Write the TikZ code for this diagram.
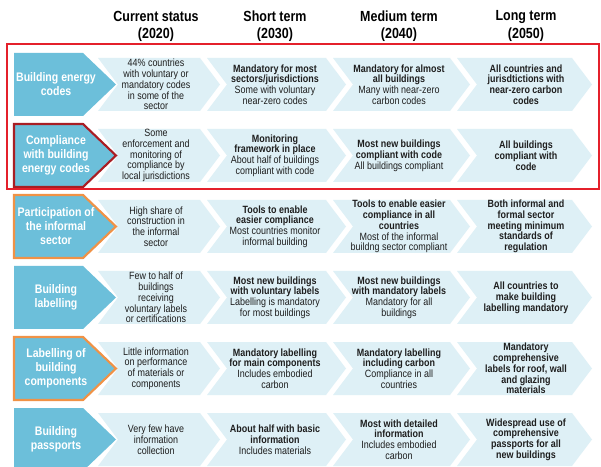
\documentclass[tikz,border=0pt]{standalone}
\usepackage{fontspec}
\setmainfont{Liberation Sans}[FakeStretch=0.85]
\usepackage{xcolor}
\definecolor{tagblue}{RGB}{108,191,218}
\definecolor{paleblue}{RGB}{222,240,246}
\definecolor{boxred}{RGB}{228,32,43}
\definecolor{darkred}{RGB}{168,30,36}
\definecolor{tagorange}{RGB}{240,146,70}
\definecolor{txt}{RGB}{30,30,30}

\begin{document}
\begin{tikzpicture}[
      x=0.75pt,y=-0.75pt,
      heading/.style={
        font=\bfseries\fontsize{11}{12.8}\selectfont,
        align=center,
        text=black
      },
      tag/.style={
        font=\bfseries\fontsize{9.3}{10.5}\selectfont,
        align=center,
        text=white,
        inner sep=0pt
      },
      cell/.style={
        font=\fontsize{7.9}{8.1}\selectfont,
        align=center,
        text=txt,
        inner sep=0pt
      },
      chevron/.style={
        fill=paleblue
      },
      tagshape/.style={
        fill=tagblue
      },
      tagborder/.style={
        line width=1.6pt,
        line join=miter
      }
    ]
    \path[use as bounding box,fill=white] (0,0) rectangle (601,467);

    % arrows behind the texts
    \foreach \yc in {84.5,155.5,226.5,297.5,368.5,439.5} {
      \fill[tagshape] (14,\yc-31.5) -- (83,\yc-31.5) -- (116,\yc) -- (83,\yc+31.5) -- (14,\yc+31.5) -- cycle;
      \foreach \l/\s in {98/200,207/326,333/450,457/572}
        \fill[chevron] (\l,\yc-26.5) -- (\s,\yc-26.5) -- (\s+20,\yc) -- (\s,\yc+26.5) -- (\l,\yc+26.5) -- (\l+20,\yc) -- cycle;
    }
    \draw[tagborder,draw=darkred] (14,124) -- (83,124) -- (116,155.5) -- (83,187) -- (14,187) -- cycle;
    \draw[tagborder,draw=tagorange] (14,195) -- (83,195) -- (116,226.5) -- (83,258) -- (14,258) -- cycle;
    \draw[tagborder,draw=tagorange] (14,337) -- (83,337) -- (116,368.5) -- (83,400) -- (14,400) -- cycle;

    % column headings
    \node[heading] (h1) at (156,26) {Current status\\(2020)};
    \node[heading] (h2) at (275,26) {Short term\\(2030)};
    \node[heading] (h3) at (399,26) {Medium term\\(2040)};
    \node[heading] (h4) at (526,26) {Long term\\(2050)};

    % row 1
    \node[tag] (t1) at (56,84.5) {Building energy\\codes};
    \node[cell] (c11) at (h1 |- t1) {44\% countries\\with voluntary or\\mandatory codes\\in some of the\\sector};
    \node[cell] (c12) at (h2 |- t1) {\textbf{Mandatory for most}\\\textbf{sectors/jurisdictions}\\Some with voluntary\\near-zero codes};
    \node[cell] (c13) at (h3 |- t1) {\textbf{Mandatory for almost}\\\textbf{all buildings}\\Many with near-zero\\carbon codes};
    \node[cell] (c14) at (h4 |- t1) {\textbf{All countries and}\\\textbf{jurisdtictions with}\\\textbf{near-zero carbon}\\\textbf{codes}};

    % row 2
    \node[tag] (t2) at (56,155.5) {Compliance\\with building\\energy codes};
    \node[cell] (c21) at (h1 |- t2) {Some\\enforcement and\\monitoring of\\compliance by\\local jurisdictions};
    \node[cell] (c22) at (h2 |- t2) {\textbf{Monitoring}\\\textbf{framework in place}\\About half of buildings\\compliant with code};
    \node[cell] (c23) at (h3 |- t2) {\textbf{Most new buildings}\\\textbf{compliant with code}\\All buildings compliant};
    \node[cell] (c24) at (h4 |- t2) {\textbf{All buildings}\\\textbf{compliant with}\\\textbf{code}};

    % row 3
    \node[tag] (t3) at (56,226.5) {Participation of\\the informal\\sector};
    \node[cell] (c31) at (h1 |- t3) {High share of\\construction in\\the informal\\sector};
    \node[cell] (c32) at (h2 |- t3) {\textbf{Tools to enable}\\\textbf{easier compliance}\\Most countries monitor\\informal building};
    \node[cell] (c33) at (h3 |- t3) {\textbf{Tools to enable easier}\\\textbf{compliance in all}\\\textbf{countries}\\Most of the informal\\buildng sector compliant};
    \node[cell] (c34) at (h4 |- t3) {\textbf{Both informal and}\\\textbf{formal sector}\\\textbf{meeting minimum}\\\textbf{standards of}\\\textbf{regulation}};

    % row 4
    \node[tag] (t4) at (56,297.5) {Building\\labelling};
    \node[cell] (c41) at (h1 |- t4) {Few to half of\\buildings\\receiving\\voluntary labels\\or certifications};
    \node[cell] (c42) at (h2 |- t4) {\textbf{Most new buildings}\\\textbf{with voluntary labels}\\Labelling is mandatory\\for most buildings};
    \node[cell] (c43) at (h3 |- t4) {\textbf{Most new buildings}\\\textbf{with mandatory labels}\\Mandatory for all\\buildings};
    \node[cell] (c44) at (h4 |- t4) {\textbf{All countries to}\\\textbf{make building}\\\textbf{labelling mandatory}};

    % row 5
    \node[tag] (t5) at (56,368.5) {Labelling of\\building\\components};
    \node[cell] (c51) at (h1 |- t5) {Little information\\on performance\\of materials or\\components};
    \node[cell] (c52) at (h2 |- t5) {\textbf{Mandatory labelling}\\\textbf{for main components}\\Includes embodied\\carbon};
    \node[cell] (c53) at (h3 |- t5) {\textbf{Mandatory labelling}\\\textbf{including carbon}\\Compliance in all\\countries};
    \node[cell] (c54) at (h4 |- t5) {\textbf{Mandatory}\\\textbf{comprehensive}\\\textbf{labels for roof, wall}\\\textbf{and glazing}\\\textbf{materials}};

    % row 6
    \node[tag] (t6) at (56,439.5) {Building\\passports};
    \node[cell] (c61) at (h1 |- t6) {Very few have\\information\\collection};
    \node[cell] (c62) at (h2 |- t6) {\textbf{About half with basic}\\\textbf{information}\\Includes materials};
    \node[cell] (c63) at (h3 |- t6) {\textbf{Most with detailed}\\\textbf{information}\\Includes embodied\\carbon};
    \node[cell] (c64) at (h4 |- t6) {\textbf{Widespread use of}\\\textbf{comprehensive}\\\textbf{passports for all}\\\textbf{new buildings}};

    % highlight of the first two rows
    \draw[boxred,line width=1.6pt] (7,44) rectangle (599,189);

  \end{tikzpicture}
\end{document}
